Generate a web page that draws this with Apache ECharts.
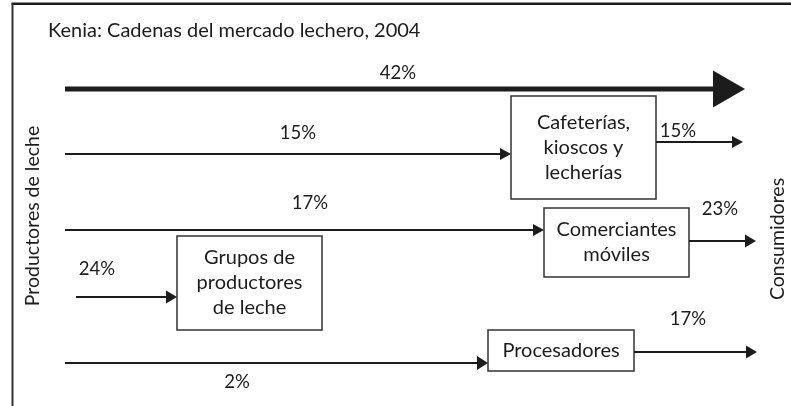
<!DOCTYPE html>
<html>
<head>
<meta charset="utf-8">
<script src="https://cdn.jsdelivr.net/npm/echarts@6/dist/echarts.min.js"></script>
<style>
  html, body { margin: 0; padding: 0; background: #fff; }
  #chart { width: 791px; height: 406px; }
</style>
</head>
<body>
<div id="chart"></div>
<script>
// data
const title = "Kenia: Cadenas del mercado lechero, 2004";
const sourceName = "Productores de leche";
const sinkName = "Consumidores";
const boxNames = ["Cafeterías,\nkioscos y\nlecherías", "Comerciantes\nmóviles", "Grupos de\nproductores\nde leche", "Procesadores"];
const inShares = [42, 15, 17, 24, 2];   // flows leaving the producers
const outShares = [15, 23, 17];         // flows reaching consumers

// layout (chart space = pixel space of the 791x406 picture)
const boxRects = [[511, 96, 656, 199], [544, 208, 689, 277], [177, 236, 322, 330], [488, 330, 634, 371]];
// [x start, x end, y, line width, head length, head half height]
const inArrows = [[65, 745, 89, 5, 32, 18.5], [65, 511, 154, 2, 11, 6], [65, 544, 230, 2, 11, 6], [76, 177, 297, 2, 11, 6.5], [65, 488, 363, 2, 11, 7]];
const inLabelPos = [[398, 73], [298, 133], [310, 203], [97, 269], [237, 382]];
const outArrows = [[656, 743, 142, 2, 11, 6], [689, 756, 241, 2, 11, 6.5], [634, 757, 352, 2, 11, 6.5]];
const outLabelPos = [[678, 131], [720, 209], [688, 319]];

const ink = "#1c1c1c";
const font = "Lato, 'Noto Sans', sans-serif";

const chart = echarts.init(document.getElementById("chart"));

function arrow(api, a) {
  const p0 = api.coord([a[0], a[2]]);
  const p1 = api.coord([a[1], a[2]]);
  return [
    { type: "line", shape: { x1: p0[0], y1: p0[1], x2: p1[0] - a[4] + 1, y2: p1[1] }, style: { stroke: ink, lineWidth: a[3] } },
    { type: "polygon", shape: { points: [[p1[0] - a[4], p1[1] - a[5]], [p1[0], p1[1]], [p1[0] - a[4], p1[1] + a[5]]] }, style: { fill: ink } }
  ];
}

function label(api, pos, text, size) {
  const p = api.coord(pos);
  return { type: "text", x: p[0], y: p[1], style: { text: text, fill: ink, font: size + "px " + font, align: "center", verticalAlign: "middle" } };
}

function flowSeries(name, shares, arrows, labelPos) {
  return {
    name: name,
    type: "custom",
    coordinateSystem: "cartesian2d",
    silent: true,
    data: shares.map((v, i) => [arrows[i][0], arrows[i][2], v, i]),
    renderItem: (params, api) => {
      const i = api.value(3);
      return { type: "group", children: arrow(api, arrows[i]).concat([label(api, labelPos[i], api.value(2) + "%", 18.5)]) };
    }
  };
}

const option = {
  animation: false,
  grid: { left: 0, right: 0, top: 0, bottom: 0 },
  xAxis: { type: "value", min: 0, max: 791, show: false },
  yAxis: { type: "value", min: 0, max: 406, inverse: true, show: false },
  series: [
    {
      name: "marco",
      type: "custom",
      coordinateSystem: "cartesian2d",
      silent: true,
      data: [[0, 0]],
      renderItem: (params, api) => {
        const tl = api.coord([12.5, 3.8]);
        const tr = api.coord([791, 3.8]);
        const bl = api.coord([12.5, 406]);
        const pl = api.coord([33, 216]);
        const pr = api.coord([778, 239]);
        const pt = api.coord([48, 31]);
        return {
          type: "group",
          children: [
            { type: "line", shape: { x1: tl[0] - 1, y1: tl[1], x2: tr[0], y2: tr[1] }, style: { stroke: ink, lineWidth: 2.6 } },
            { type: "line", shape: { x1: tl[0], y1: tl[1], x2: bl[0], y2: bl[1] }, style: { stroke: "#333", lineWidth: 2 } },
            { type: "text", x: pt[0], y: pt[1], style: { text: title, fill: ink, font: "20px " + font, align: "left", verticalAlign: "middle" } },
            { type: "text", x: pl[0], y: pl[1], rotation: Math.PI / 2, style: { text: sourceName, fill: ink, font: "19.5px " + font, align: "center", verticalAlign: "middle" } },
            { type: "text", x: pr[0], y: pr[1], rotation: Math.PI / 2, style: { text: sinkName, fill: ink, font: "19.5px " + font, align: "center", verticalAlign: "middle" } }
          ]
        };
      }
    },
    {
      name: "intermediarios",
      type: "custom",
      coordinateSystem: "cartesian2d",
      silent: true,
      data: boxNames.map((n, i) => [boxRects[i][0], boxRects[i][1], i]),
      renderItem: (params, api) => {
        const r = boxRects[api.value(2)];
        const a = api.coord([r[0], r[1]]);
        const b = api.coord([r[2], r[3]]);
        return {
          type: "group",
          children: [
            { type: "rect", shape: { x: a[0], y: a[1], width: b[0] - a[0], height: b[1] - a[1] }, style: { fill: "#fff", stroke: "#333", lineWidth: 1.5 } },
            { type: "text", x: (a[0] + b[0]) / 2, y: (a[1] + b[1]) / 2, style: { text: boxNames[api.value(2)], fill: ink, font: "20px " + font, align: "center", verticalAlign: "middle", lineHeight: 25 } }
          ]
        };
      }
    },
    flowSeries("entradas", inShares, inArrows, inLabelPos),
    flowSeries("salidas", outShares, outArrows, outLabelPos)
  ]
};

chart.setOption(option);
</script>
</body>
</html>
